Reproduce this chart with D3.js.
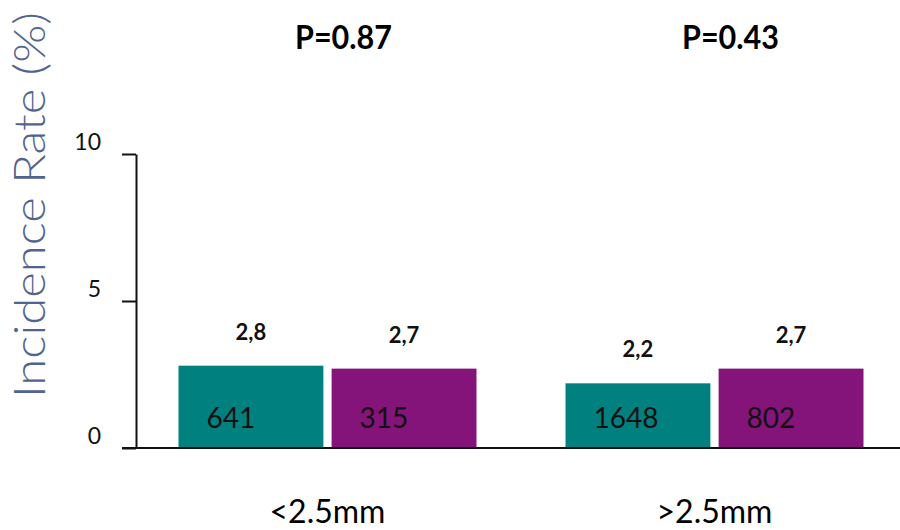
<!DOCTYPE html>
<html>
<head>
<meta charset="utf-8">
<script src="https://cdn.jsdelivr.net/npm/d3@7"></script>
<style>
  html, body { margin: 0; padding: 0; background: #fff; }
  svg { display: block; }
  text { font-family: Lato, "Noto Sans", sans-serif; }
</style>
</head>
<body>
<svg id="chart" width="900" height="530"></svg>
<script>
// ---- data ----
const categories = ["<2.5mm", ">2.5mm"];
const series = ["A", "B"];
const rateA = [2.8, 2.2];
const rateB = [2.7, 2.7];
const rateLabelsA = ["2,8", "2,2"];
const rateLabelsB = ["2,7", "2,7"];
const countsA = [641, 1648];
const countsB = [315, 802];
const pValues = ["P=0.87", "P=0.43"];
const yTicks = [0, 5, 10];
const yTitle = "Incidence Rate (%)";
const colors = { A: "#00807f", B: "#85147a" };

// ---- build rows ----
const rows = categories.map((c, i) => ({
  cat: c,
  vals: [
    { s: "A", v: rateA[i], lab: rateLabelsA[i], n: countsA[i] },
    { s: "B", v: rateB[i], lab: rateLabelsB[i], n: countsB[i] }
  ],
  p: pValues[i]
}));

const svg = d3.select("#chart");

const y = d3.scaleLinear().domain([0, 10]).range([448, 154]);
const x0 = d3.scaleBand().domain(categories).range([178.5, 863.5]).paddingInner(0.23);
const x1 = d3.scaleBand().domain(series).range([0, x0.bandwidth()]).paddingInner(0.0537);

// y axis
const yAxis = svg.append("g")
  .attr("transform", "translate(136,0)")
  .call(d3.axisLeft(y).tickValues(yTicks).tickSize(14).tickSizeOuter(0).tickPadding(21).tickFormat(d3.format("d")));
yAxis.select(".domain").attr("stroke", "#111").attr("stroke-width", 2);
yAxis.selectAll(".tick line").attr("stroke", "#111").attr("stroke-width", 2);
yAxis.selectAll(".tick text")
  .attr("dy", null).attr("y", -5)
  .attr("font-size", 23).attr("font-family", "Lato, sans-serif").attr("fill", "#111");

// bars
const groups = svg.append("g").selectAll("g").data(rows).join("g")
  .attr("transform", d => `translate(${x0(d.cat)},0)`);

groups.selectAll("rect").data(d => d.vals).join("rect")
  .attr("x", d => x1(d.s))
  .attr("y", d => y(d.v))
  .attr("width", x1.bandwidth())
  .attr("height", d => y(0) - y(d.v))
  .attr("fill", d => colors[d.s]);

// value labels above bars
groups.selectAll("text.val").data(d => d.vals).join("text")
  .attr("class", "val")
  .attr("x", d => x1(d.s) + x1.bandwidth() / 2)
  .attr("y", d => y(d.v) - 26)
  .attr("text-anchor", "middle")
  .attr("font-size", 22)
  .attr("font-weight", 700)
  .attr("fill", "#111")
  .text(d => d.lab);

// counts inside bars
groups.selectAll("text.n").data(d => d.vals).join("text")
  .attr("class", "n")
  .attr("x", d => x1(d.s) + 28)
  .attr("y", y(0) - 20)
  .attr("font-size", 28)
  .attr("fill", "#111")
  .text(d => d.n);

// p-values
groups.append("text")
  .attr("x", x0.bandwidth() / 2 + 16)
  .attr("y", 49)
  .attr("text-anchor", "middle")
  .attr("font-size", 32)
  .attr("font-weight", 700)
  .attr("textLength", 97)
  .attr("lengthAdjust", "spacingAndGlyphs")
  .attr("fill", "#000")
  .text(d => d.p);

// category labels
groups.append("text")
  .attr("x", x0.bandwidth() / 2)
  .attr("y", 523)
  .attr("text-anchor", "middle")
  .attr("font-size", 32)
  .attr("fill", "#000")
  .text(d => d.cat);

// x axis baseline
svg.append("line")
  .attr("x1", 122).attr("x2", 900)
  .attr("y1", y(0)).attr("y2", y(0))
  .attr("stroke", "#111").attr("stroke-width", 2);

// y title
svg.append("text")
  .attr("transform", "translate(45,205) rotate(-90)")
  .attr("text-anchor", "middle")
  .attr("font-size", 44)
  .attr("font-weight", 300)
  .attr("textLength", 386)
  .attr("lengthAdjust", "spacingAndGlyphs")
  .attr("fill", "#51648f")
  .text(yTitle);
</script>
</body>
</html>
